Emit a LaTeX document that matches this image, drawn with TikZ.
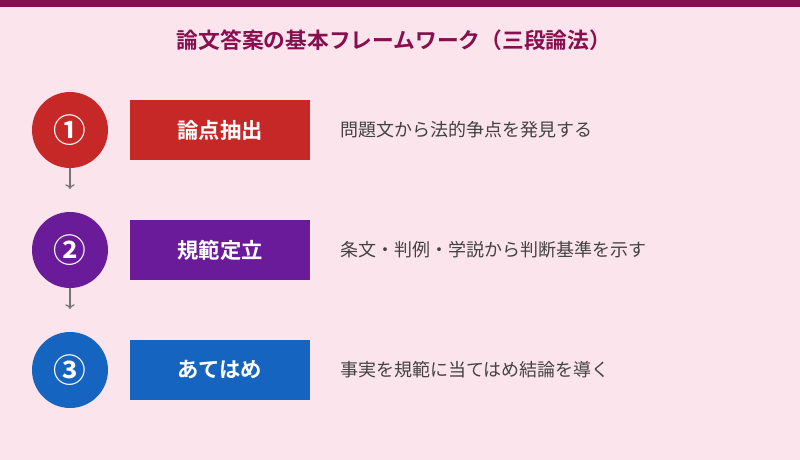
\documentclass[tikz,border=0pt]{standalone}
\usepackage{fontspec}
\usepackage{tikz}
\usetikzlibrary{positioning,arrows.meta}
\setmainfont{Noto Sans CJK JP}
\newfontfamily\jpbold{Noto Sans CJK JP Bold}
\definecolor{bgpink}{HTML}{FCE4EC}
\definecolor{titlemag}{HTML}{880E4F}
\definecolor{stepred}{HTML}{C62828}
\definecolor{steppurple}{HTML}{6A1B9A}
\definecolor{stepblue}{HTML}{1565C0}
\definecolor{arrgray}{HTML}{757575}
\definecolor{descgray}{HTML}{424242}
\tikzset{
	numcircle/.style={circle,minimum size=57pt,inner sep=0pt,text=white,font=\jpbold\fontsize{24.5}{25}\selectfont},
	stepbox/.style={minimum width=135pt,minimum height=45pt,inner sep=0pt,text=white,font=\jpbold\fontsize{16}{17}\selectfont},
	desc/.style={anchor=west,text=descgray,inner sep=0pt,font=\fontsize{13.5}{14}\selectfont},
	flowarrow/.style={-{To[length=3.5pt,width=7pt]},arrgray,line width=0.9pt}
}
\begin{document}
\begin{tikzpicture}[x=0.75pt,y=-0.75pt]
		\fill[bgpink] (0,0) rectangle (800,460);
		\useasboundingbox (0,0) rectangle (800,460);
		\fill[titlemag] (0,0) rectangle (800,7);
		\node[text=titlemag,font=\jpbold\fontsize{16.3}{17}\selectfont] (title) at (394,40) {論文答案の基本フレームワーク（三段論法）};
		% steps
		\node[numcircle,fill=stepred] (c1) at (70,130) {①};
		\node[numcircle,fill=steppurple] (c2) at (70,250) {②};
		\node[numcircle,fill=stepblue] (c3) at (70,370) {③};
		\node[stepbox,fill=stepred] (b1) at (220,130) {論点抽出};
		\node[stepbox,fill=steppurple] (b2) at (220,250) {規範定立};
		\node[stepbox,fill=stepblue] (b3) at (220,370) {あてはめ};
		\node[desc] (d1) at (340,130) {問題文から法的争点を発見する};
		\node[desc] (d2) at (340,250) {条文・判例・学説から判断基準を示す};
		\node[desc] (d3) at (340,370) {事実を規範に当てはめ結論を導く};
		% arrows
		\coordinate (a1) at (70,189);
		\coordinate (a2) at (70,309);
		\draw[flowarrow] (c1.south) -- (a1);
		\draw[flowarrow] (c2.south) -- (a2);
	\end{tikzpicture}
\end{document}
